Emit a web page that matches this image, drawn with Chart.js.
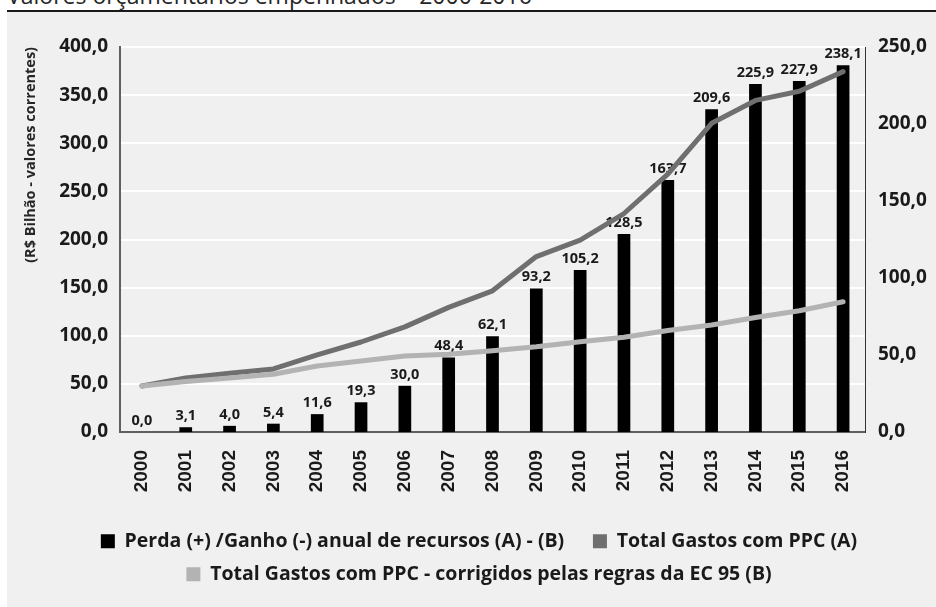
<!DOCTYPE html>
<html>
<head>
<meta charset="utf-8">
<script src="https://cdn.jsdelivr.net/npm/chart.js@4.4.1/dist/chart.umd.min.js"></script>
<style>
  html, body { margin: 0; padding: 0; background: #ffffff; }
  body { width: 936px; height: 607px; position: relative; overflow: hidden; }
  #topTitle {
    position: absolute; left: 7px; top: -16px;
    font: 23px/23px "Open Sans", sans-serif; color: #262626; white-space: nowrap;
  }
  #panel {
    position: absolute; left: 7px; top: 10px; right: 0; bottom: 0;
    background: #f0f0f0; border-top: 2px solid #1a1a1a;
  }
  #chart { position: absolute; left: 0; top: 0; }
</style>
</head>
<body>
<div id="topTitle">Valores orçamentários empenhados – 2000-2016</div>
<div id="panel"></div>
<canvas id="chart" width="936" height="607"></canvas>
<script>
const anos = ['2000', '2001', '2002', '2003', '2004', '2005', '2006', '2007', '2008',
              '2009', '2010', '2011', '2012', '2013', '2014', '2015', '2016'];
// Perda (+) / Ganho (-) anual de recursos (A) - (B)
const perda = [0.0, 3.1, 4.0, 5.4, 11.6, 19.3, 30.0, 48.4, 62.1,
               93.2, 105.2, 128.5, 163.7, 209.6, 225.9, 227.9, 238.1];
// Total Gastos com PPC (A)
const gastosPPC = [47.8, 56.2, 61.0, 65.5, 80.2, 93.5, 109.2, 129.5, 146.7,
                   182.3, 199.3, 227.0, 268.0, 320.7, 344.5, 354.0, 374.4];
// Total Gastos com PPC - corrigidos pelas regras da EC 95 (B)
const gastosEC95 = [47.8, 52.5, 56.0, 60.0, 68.6, 73.8, 79.0, 80.9, 84.5,
                    88.6, 93.8, 98.4, 105.5, 111.2, 119.0, 126.0, 135.4];
const ticksEsq = [0, 50, 100, 150, 200, 250, 300, 350, 400];
const ticksDir = [0, 50, 100, 150, 200, 250];

const fmt = v => v.toFixed(1).replace('.', ',');
const textColor = '#1a1a1a';
const legendColors = ['#000000', '#6f6f6f', '#b3b3b3'];

Chart.defaults.font.family = '"Open Sans", sans-serif';
Chart.defaults.color = textColor;

// rótulos de valor sobre as barras (desenhados antes das linhas)
const barLabels = {
    id: 'barLabels',
    afterDatasetDraw(chart, args) {
        if (args.index !== 0) return;
        const ctx = chart.ctx;
        ctx.save();
        ctx.font = 'bold 14.5px "Open Sans"';
        ctx.fillStyle = textColor;
        ctx.textAlign = 'center';
        ctx.textBaseline = 'bottom';
        args.meta.data.forEach((bar, i) => {
            ctx.fillText(fmt(perda[i]), bar.x, bar.y - 4);
        });
        ctx.restore();
    }
};

new Chart(document.getElementById('chart'), {
    type: 'bar',
    data: {
        labels: anos,
        datasets: [
            {
                label: 'Perda (+) /Ganho (-) anual de recursos (A) - (B)',
                data: perda,
                yAxisID: 'y1',
                backgroundColor: '#000000',
                barPercentage: 0.29,
                categoryPercentage: 1,
                order: 2,
            },
            {
                type: 'line',
                label: 'Total Gastos com PPC (A)',
                data: gastosPPC,
                yAxisID: 'y',
                borderColor: '#6f6f6f',
                backgroundColor: '#6f6f6f',
                borderWidth: 5,
                pointRadius: 0,
                tension: 0,
                borderCapStyle: 'round',
                borderJoinStyle: 'round',
                order: 1,
            },
            {
                type: 'line',
                label: 'Total Gastos com PPC - corrigidos pelas regras da EC 95 (B)',
                data: gastosEC95,
                yAxisID: 'y',
                borderColor: '#b3b3b3',
                backgroundColor: '#b3b3b3',
                borderWidth: 5,
                pointRadius: 0,
                tension: 0,
                borderCapStyle: 'round',
                borderJoinStyle: 'round',
                order: 0,
            }
        ]
    },
    options: {
        responsive: false,
        animation: false,
        devicePixelRatio: 1,
        layout: {
            padding: { left: 22, right: 0, top: 47, bottom: 13 }
        },
        scales: {
            x: {
                grid: { display: false, drawTicks: false },
                border: { color: '#5f5f5f', width: 2 },
                ticks: {
                    minRotation: 90,
                    maxRotation: 90,
                    padding: 18,
                    color: textColor,
                    font: { family: '"Liberation Sans"', size: 19, weight: 'bold' }
                },
                afterFit: s => { s.height = 86; }
            },
            y: {
                position: 'left',
                min: 0,
                max: 400,
                afterBuildTicks: s => { s.ticks = ticksEsq.map(v => ({ value: v })); },
                ticks: {
                    padding: 12,
                    color: textColor,
                    font: { size: 19, weight: 'bold' },
                    callback: v => fmt(v)
                },
                grid: { color: '#ffffff', lineWidth: 2, drawTicks: false },
                border: { color: '#5f5f5f', width: 2 },
                title: {
                    display: true,
                    text: '(R$ Bilhão - valores correntes)',
                    align: 'end',
                    color: '#262626',
                    font: { size: 14.5, weight: 'bold' },
                    padding: { top: 0, bottom: 4 }
                },
                afterFit: s => { s.width = 98; }
            },
            y1: {
                position: 'right',
                min: 0,
                max: 250,
                afterBuildTicks: s => { s.ticks = ticksDir.map(v => ({ value: v })); },
                ticks: {
                    padding: 13,
                    color: textColor,
                    font: { size: 19, weight: 'bold' },
                    callback: v => fmt(v)
                },
                grid: { display: false, drawTicks: false },
                border: { color: '#333333', width: 1 },
                afterFit: s => { s.width = 71; }
            }
        },
        plugins: {
            legend: {
                position: 'bottom',
                labels: {
                    boxWidth: 14,
                    boxHeight: 14,
                    padding: 13.5,
                    color: textColor,
                    font: { size: 19.5, weight: 'bold' },
                    generateLabels: chart => chart.data.datasets.map((ds, i) => ({
                        text: i === 0 ? ds.label + '   ' : ds.label,
                        fillStyle: legendColors[i],
                        strokeStyle: legendColors[i],
                        lineWidth: 0,
                        hidden: false,
                        datasetIndex: i,
                        fontColor: textColor
                    }))
                }
            },
            tooltip: { enabled: false }
        }
    },
    plugins: [barLabels]
});
</script>
</body>
</html>
